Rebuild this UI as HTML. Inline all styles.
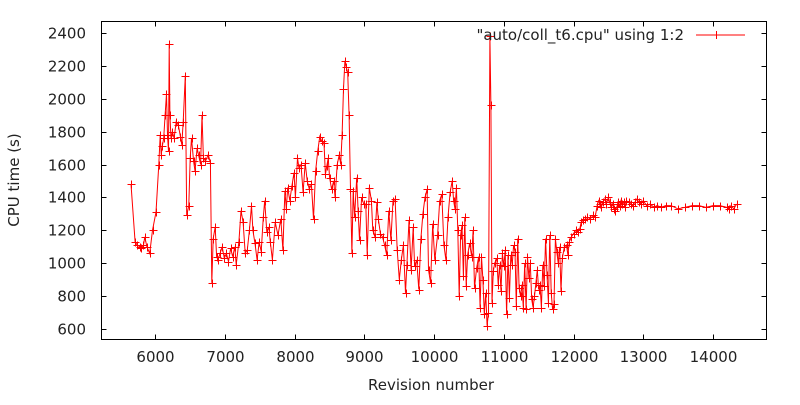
<!DOCTYPE html>
<html><head><meta charset="utf-8"><style>
html,body{margin:0;padding:0;background:#fff;}
svg text{font-family:"DejaVu Sans","Liberation Sans",sans-serif;font-size:15px;fill:#222;}
</style></head><body>
<svg id="chart" width="800" height="400" xmlns="http://www.w3.org/2000/svg">
<rect x="0" y="0" width="800" height="400" fill="#fff"/>
<g id="axes"></g>
<g id="series"></g>
<text x="431" y="390" text-anchor="middle">Revision number</text>
<text transform="translate(19,180) rotate(-90)" text-anchor="middle">CPU time (s)</text>
<g>
<text x="684" y="40" text-anchor="end">"auto/coll_t6.cpu" using 1:2</text>
<line x1="696" y1="35" x2="745" y2="35" stroke="#f00" stroke-width="1"/>
<path d="M716.5 31v8M712.5 35h8" stroke="#f00" stroke-width="1"/>
</g>
</svg>
<script>
const xTicks=[6000,7000,8000,9000,10000,11000,12000,13000,14000];
const yTicks=[600,800,1000,1200,1400,1600,1800,2000,2200,2400];
const revs=[5651,5710,5740,5780,5800,5830,5850,5880,5920,5960,6010,6050,6070,6085,6100,6120,6140,6160,6175,6190,6200,6210,6225,6245,6270,6300,6330,6360,6380,6400,6430,6450,6480,6500,6520,6550,6570,6600,6620,6650,6670,6690,6720,6760,6790,6810,6830,6860,6880,6900,6930,6960,6990,7020,7050,7080,7110,7140,7160,7200,7230,7260,7290,7320,7350,7380,7400,7430,7460,7490,7520,7550,7570,7600,7630,7650,7680,7720,7760,7800,7830,7860,7880,7900,7930,7960,7990,8010,8040,8060,8090,8120,8150,8180,8210,8240,8270,8300,8330,8360,8390,8420,8440,8460,8480,8500,8530,8560,8580,8610,8640,8660,8680,8700,8720,8740,8760,8780,8800,8820,8840,8860,8890,8910,8930,8960,8990,9020,9040,9070,9100,9120,9150,9180,9200,9230,9260,9290,9320,9350,9380,9410,9440,9470,9500,9530,9560,9590,9610,9640,9670,9700,9720,9750,9780,9810,9840,9870,9900,9920,9950,9980,10010,10050,10080,10110,10140,10170,10200,10230,10260,10280,10300,10320,10340,10360,10380,10400,10420,10440,10460,10480,10510,10540,10560,10580,10610,10640,10660,10680,10700,10720,10740,10760,10780,10800,10815,10830,10850,10870,10900,10920,10940,10960,10980,11000,11020,11040,11060,11080,11100,11120,11140,11160,11180,11200,11220,11240,11260,11280,11300,11320,11340,11360,11380,11400,11420,11440,11460,11480,11500,11520,11540,11560,11580,11600,11620,11640,11660,11680,11700,11720,11740,11760,11780,11800,11820,11840,11870,11900,11920,11940,11970,12000,12030,12060,12090,12110,12140,12170,12200,12240,12280,12310,12340,12360,12380,12400,12420,12450,12470,12500,12520,12540,12560,12580,12600,12620,12640,12660,12680,12700,12720,12740,12760,12790,12820,12850,12880,12910,12940,12970,13000,13050,13100,13150,13200,13260,13320,13400,13500,13600,13700,13800,13900,14000,14100,14200,14230,14260,14300,14340];
const cpu=[1480,1130,1110,1100,1090,1110,1160,1100,1060,1200,1310,1600,1780,1660,1710,1760,1900,2030,1780,1680,2330,1900,1760,1800,1760,1860,1840,1770,1720,1860,2140,1290,1350,1640,1760,1620,1560,1700,1660,1600,1900,1640,1620,1660,1610,880,1150,1220,1040,1020,1060,1100,1030,1060,1010,1090,1040,1100,990,1130,1320,1250,1060,1080,1200,1350,1200,1120,1020,1130,1070,1280,1380,1190,1220,1130,1020,1250,1170,1270,1080,1440,1330,1460,1380,1470,1550,1400,1640,1580,1600,1430,1610,1500,1450,1480,1270,1560,1680,1770,1740,1730,1540,1590,1640,1520,1450,1500,1400,1600,1660,1600,1780,2060,2230,2190,2160,1900,1450,1060,1440,1280,1520,1320,1140,1400,1360,1360,1050,1460,1380,1200,1160,1370,1270,1180,1160,1110,1050,1320,1140,1380,1390,1080,900,1020,1110,820,990,1260,960,1220,980,1020,840,1150,1300,1400,1450,960,880,1240,1020,1170,1380,1420,1110,1020,1280,1430,1500,1380,1330,1460,1200,800,1170,1230,920,1280,860,1050,1120,1040,1200,850,970,1040,730,1040,900,690,820,620,700,2380,1960,760,950,1000,1030,870,990,830,1060,980,1080,690,1050,790,1050,990,1110,1070,740,1150,850,800,870,730,1000,720,1040,910,1000,780,730,800,880,960,840,870,730,990,860,1150,930,760,1170,820,720,750,1150,1070,1000,1100,830,1030,1100,1110,1050,1130,1160,1180,1200,1190,1210,1250,1260,1270,1280,1270,1290,1280,1350,1380,1360,1340,1370,1390,1360,1400,1370,1340,1360,1330,1320,1340,1370,1350,1380,1360,1370,1340,1380,1370,1360,1350,1370,1390,1370,1360,1380,1350,1360,1340,1350,1340,1350,1350,1330,1340,1350,1350,1340,1350,1350,1340,1330,1350,1330,1360];

const L=101.5,R=766.5,T=21.5,B=339.5;
function xs(r){return 155.3+(r-6000)*0.0697;}
function ys(v){return 329+(600-v)*32.9/200;}
const NS='http://www.w3.org/2000/svg';
const axes=document.getElementById('axes');
const ser=document.getElementById('series');
function mk(tag,attrs,parent){const e=document.createElementNS(NS,tag);for(const k in attrs)e.setAttribute(k,attrs[k]);parent.appendChild(e);return e;}
const frame=mk('rect',{x:L,y:T,width:R-L,height:B-T,fill:'none',stroke:'#000','stroke-width':1},axes);


xTicks.forEach(t=>{
  const x=Math.round(xs(t))+0.5;
  const tk=mk('path',{d:`M${x} ${B}v-5M${x} ${T}v5`,stroke:'#000','stroke-width':1},axes);
  
  
  const lb=mk('text',{x:x,y:362,'text-anchor':'middle'},axes);
  lb.textContent=t;
  
  
});
yTicks.forEach(t=>{
  const y=Math.round(ys(t))+0.5;
  const tk=mk('path',{d:`M${L} ${y}h5M${R} ${y}h-5`,stroke:'#000','stroke-width':1},axes);
  
  
  const lb=mk('text',{x:86,y:y+5,'text-anchor':'end'},axes);
  lb.textContent=t;
  
  
});
let d='';
revs.forEach((r,i)=>{d+=(i?'L':'M')+xs(r).toFixed(1)+' '+ys(cpu[i]).toFixed(1);});
const line=mk('path',{d:d,fill:'none',stroke:'#f00','stroke-width':1},ser);


revs.forEach((r,i)=>{
  const x=Math.round(xs(r))+0.5,y=Math.round(ys(cpu[i]))+0.5;
  const p=mk('path',{d:`M${x-4} ${y}h8M${x} ${y-4}v8`,stroke:'#f00','stroke-width':1},ser);
  
  
});
</script>
</body></html>
